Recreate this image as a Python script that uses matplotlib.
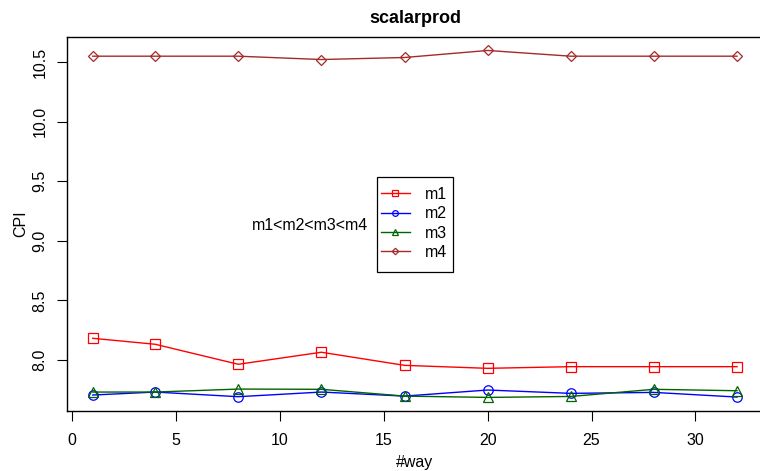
import matplotlib
matplotlib.use('Agg')
import matplotlib.pyplot as plt
from matplotlib.patches import Rectangle

plt.rcParams['font.family'] = ['Liberation Sans', 'DejaVu Sans']

ways = [1, 4, 8, 12, 16, 20, 24, 28, 32]
m1 = [8.182, 8.132, 7.964, 8.065, 7.955, 7.930, 7.944, 7.944, 7.944]
m2 = [7.706, 7.731, 7.692, 7.731, 7.697, 7.748, 7.720, 7.728, 7.689]
m3 = [7.731, 7.731, 7.756, 7.754, 7.697, 7.686, 7.694, 7.754, 7.742]
m4 = [10.549, 10.549, 10.549, 10.521, 10.538, 10.597, 10.549, 10.549, 10.549]

series = [
    ('m1', m1, 'red', 's'),
    ('m2', m2, 'blue', 'o'),
    ('m3', m3, '#006400', '^'),
    ('m4', m4, '#A52A2A', 'D'),
]

W, H = 760, 471
fig = plt.figure(figsize=(7.6, 4.71), dpi=100)
ax = fig.add_axes([67/W, 60/H, 695.8/W, 374/H])

for name, vals, col, mk in series:
    ms = 5.5 if mk == 'D' else 6.8
    ax.plot(ways, vals, color=col, marker=mk, markersize=ms,
            markerfacecolor='none', markeredgecolor=col,
            markeredgewidth=0.9, linewidth=1, label=name)

ax.set_xlim(-0.24, 33.24)
ax.set_ylim(7.572, 10.71)
ax.set_xticks([0, 5, 10, 15, 20, 25, 30])
ax.set_yticks([8.0, 8.5, 9.0, 9.5, 10.0, 10.5])
ax.set_yticklabels(['8.0', '8.5', '9.0', '9.5', '10.0', '10.5'],
                   rotation=90, va='center')
ax.tick_params(direction='out', length=7, width=0.8, labelsize=11.5,
               colors='black')
ax.tick_params(axis='x', pad=9)
ax.tick_params(axis='y', pad=7)
for s in ax.spines.values():
    s.set_linewidth(1)
    s.set_color('black')

ax.set_title('scalarprod', fontsize=13, fontweight='bold', pad=10)
ax.set_xlabel('#way', fontsize=11.5, labelpad=5)
ax.set_ylabel('CPI', fontsize=11.5, labelpad=3)

ax.text(11.45, 9.13, 'm1<m2<m3<m4', fontsize=11.5, ha='center', va='center')

# legend entries without frame, box drawn separately (R style)
leg = ax.legend(loc='center left', bbox_to_anchor=(381/W, 1 - 223.5/H),
                bbox_transform=fig.transFigure, fontsize=11.5,
                frameon=False, borderpad=0, labelspacing=0.27,
                handlelength=1.8, handletextpad=0.95, borderaxespad=0,
                markerscale=0.6)
fig.patches.append(Rectangle((377/W, 1 - 272/H), 76/W, 95/H,
                             transform=fig.transFigure, fill=False,
                             edgecolor='black', linewidth=0.9))

fig.savefig('out.png', dpi=100)
